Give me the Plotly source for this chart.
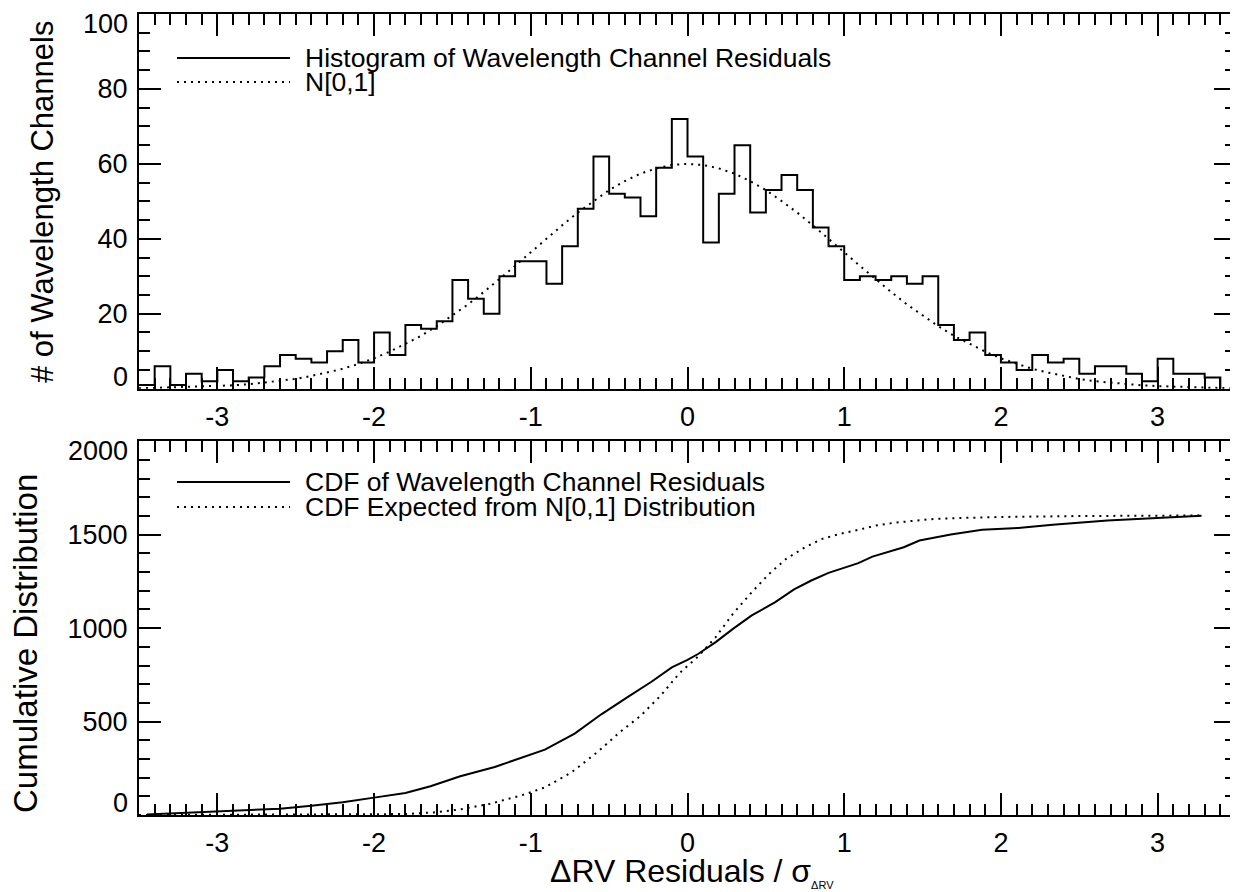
import numpy as np
import plotly.graph_objects as go
from plotly.subplots import make_subplots

# ---------------- data ----------------
bin_start = -3.5
bin_width = 0.1
hist_counts = [1, 6, 1, 4, 2, 5, 2, 3, 6, 9, 8, 7, 10, 13, 7, 15, 9, 17, 16, 18, 29, 24, 20, 30,
               34, 34, 28, 38, 48, 62, 52, 51, 46, 59, 72, 62, 39, 52, 65, 47, 53, 57, 53, 43, 38, 29, 30,
               29, 30, 28, 30, 17, 13, 15, 9, 7, 5, 9, 7, 8, 4, 6, 6, 4, 2, 8, 4, 4, 3]

gauss_x = [round(-3.5 + 0.1 * i, 1) for i in range(71)]
gauss_y = [0.1, 0.2, 0.3, 0.4, 0.5, 0.7, 0.9, 1.2, 1.6, 2.0, 2.6, 3.4, 4.3, 5.3, 6.6, 8.1, 9.9, 11.9,
           14.1, 16.7, 19.5, 22.5, 25.8, 29.2, 32.8, 36.4, 40.1, 43.6, 47.0, 50.1, 53.0, 55.4, 57.4,
           58.8, 59.7, 60.0,
           59.7, 58.8, 57.4, 55.4, 53.0, 50.1, 47.0, 43.6, 40.1, 36.4, 32.8, 29.2, 25.8, 22.5, 19.5,
           16.7, 14.1, 11.9, 9.9, 8.1, 6.6, 5.3, 4.3, 3.4, 2.6, 2.0, 1.6, 1.2, 0.9, 0.7, 0.5, 0.4,
           0.3, 0.2, 0.1]

cdf_x = [-3.45, -3.2, -3.0, -2.8, -2.6, -2.4, -2.2, -2.0, -1.8, -1.64, -1.45, -1.23, -1.02, -0.91,
         -0.72, -0.55, -0.38, -0.23, -0.1, 0.0, 0.07, 0.18, 0.29, 0.41, 0.56, 0.68, 0.79, 0.9, 1.09,
         1.18, 1.38, 1.48, 1.68, 1.88, 2.11, 2.33, 2.68, 3.02, 3.28]
cdf_y = [3, 12, 18, 23, 34, 50, 68, 93, 118, 154, 207, 257, 320, 350, 436, 539, 632, 713, 790, 830,
         863, 925, 996, 1068, 1139, 1207, 1255, 1296, 1348, 1383, 1433, 1469, 1501, 1526, 1536, 1554,
         1576, 1590, 1601]

exp_x = [-3.5, -2.0, -1.8, -1.62, -1.45, -1.26, -1.04, -0.91, -0.74, -0.57, -0.43, -0.30, -0.17,
         -0.05, 0.07, 0.18, 0.29, 0.41, 0.52, 0.63, 0.75, 0.86, 0.97, 1.09, 1.2, 1.31, 1.43, 1.54,
         1.77, 2.0, 2.5, 3.28]
exp_y = [0, 1, 5, 14, 30, 60, 110, 148, 228, 340, 445, 530, 640, 760, 850, 952, 1077, 1192, 1290,
         1371, 1433, 1478, 1504, 1526, 1549, 1563, 1572, 1583, 1590, 1595, 1600, 1603]

x_tickvals = [-3, -2, -1, 0, 1, 2, 3]
x_ticktext = ["-3", "-2", "-1", "0", "1", "2", "3"]
top_legend = ["Histogram of Wavelength Channel Residuals", "N[0,1]"]
bot_legend = ["CDF of Wavelength Channel Residuals", "CDF Expected from N[0,1] Distribution"]
top_ytitle = "# of Wavelength Channels"
bot_ytitle = "Cumulative Distribution"
xtitle = "ΔRV Residuals / σ<sub><span style='font-size:11px'>ΔRV</span></sub>"

# ---------------- figure ----------------
PAGE_OFF = 8                      # default body margin of the html page
W, H = 1238 - PAGE_OFF, 892 - PAGE_OFF
ML, MR, MT, MB = 139 - PAGE_OFF, 2, 14 - PAGE_OFF, 77
FONT = "Liberation Sans, Arial, sans-serif"
TICKF = 27
DOT = "2px,5px"
plot_w = W - ML - MR
plot_h = H - MT - MB


def pxx(px):   # page pixel -> paper x
    return (px - PAGE_OFF - ML) / plot_w


def pxy(py):   # page pixel -> paper y
    return (H - MB - (py - PAGE_OFF)) / plot_h


edges = [round(bin_start + bin_width * i, 1) for i in range(len(hist_counts) + 1)]
step_x = edges
step_y = hist_counts + [0]

fig = make_subplots(rows=2, cols=1, vertical_spacing=0.0)

fig.add_trace(go.Scatter(x=step_x, y=step_y, mode="lines", line=dict(color="black", width=2, shape="hv"),
                         showlegend=False), row=1, col=1)
fig.add_trace(go.Scatter(x=gauss_x, y=gauss_y, mode="lines", line=dict(color="black", width=2, dash=DOT),
                         showlegend=False), row=1, col=1)
fig.add_trace(go.Scatter(x=cdf_x, y=cdf_y, mode="lines", line=dict(color="black", width=2),
                         showlegend=False), row=2, col=1)
fig.add_trace(go.Scatter(x=exp_x, y=exp_y, mode="lines", line=dict(color="black", width=2, dash=DOT),
                         showlegend=False), row=2, col=1)

top_dom = [pxy(388.7), 1.0]
bot_dom = [0.0, pxy(441.3)]

axis_common = dict(showline=True, linecolor="black", linewidth=2, mirror="allticks",
                   ticks="inside", tickcolor="black", tickwidth=2, showgrid=False, zeroline=False,
                   automargin=False, tickfont=dict(family=FONT, size=TICKF, color="black"))

xcommon = dict(axis_common, range=[-3.5, 3.5], tickmode="array", tickvals=x_tickvals,
               ticktext=x_ticktext, ticklen=22,
               minor=dict(dtick=0.1, tick0=0, ticklen=11, tickwidth=2, tickcolor="black", ticks="inside"),
               ticklabelstandoff=3)
fig.update_layout(xaxis=dict(xcommon, domain=[0, 1], anchor="y"),
                  xaxis2=dict(xcommon, domain=[0, 1], anchor="y2"))

ycommon = dict(axis_common, tickmode="array", ticklen=22, ticklabelstandoff=4)
top_minor = dict(dtick=5, tick0=0, ticklen=11, tickwidth=2, tickcolor="black", ticks="inside")
bot_minor = dict(dtick=100, tick0=0, ticklen=11, tickwidth=2, tickcolor="black", ticks="inside")
fig.update_layout(
    yaxis=dict(ycommon, domain=top_dom, range=[0, 100], tickvals=[20, 40, 60, 80], minor=top_minor),
    yaxis2=dict(ycommon, domain=bot_dom, range=[0, 2000], tickvals=[500, 1000, 1500], minor=bot_minor),
    # right-hand tick marks (mirrored, no labels)
    yaxis3=dict(overlaying="y", side="right", anchor="x", range=[0, 100], tickmode="array",
                tickvals=[0, 20, 40, 60, 80, 100], ticks="inside", ticklen=22, tickwidth=2,
                tickcolor="black", showticklabels=False, showgrid=False, zeroline=False,
                showline=False, automargin=False, minor=top_minor),
    yaxis4=dict(overlaying="y2", side="right", anchor="x2", range=[0, 2000], tickmode="array",
                tickvals=[0, 500, 1000, 1500, 2000], ticks="inside", ticklen=22, tickwidth=2,
                tickcolor="black", showticklabels=False, showgrid=False, zeroline=False,
                showline=False, automargin=False, minor=bot_minor),
)

annotations = []
# end tick labels of the y axes, kept inside the axis span
for yref, val, anchor, txt, ysh in [("y", 0, "bottom", "0", -5), ("y", 100, "top", "100", 7),
                                     ("y2", 0, "bottom", "0", -5), ("y2", 2000, "top", "2000", 7)]:
    annotations.append(dict(xref="x domain", yref=yref, x=0, y=val, xanchor="right", yanchor=anchor,
                            text=txt, showarrow=False, xshift=-9, yshift=ysh,
                            font=dict(family=FONT, size=TICKF, color="black")))

# axis titles
annotations.append(dict(xref="paper", yref="paper", x=pxx(42), y=pxy(202), xanchor="center",
                        yanchor="middle", textangle=-90, text=top_ytitle, showarrow=False,
                        font=dict(family=FONT, size=31, color="black")))
annotations.append(dict(xref="paper", yref="paper", x=pxx(25), y=pxy(644), xanchor="center",
                        yanchor="middle", textangle=-90, text=bot_ytitle, showarrow=False,
                        font=dict(family=FONT, size=33, color="black")))
annotations.append(dict(xref="paper", yref="paper", x=pxx(692), y=pxy(872), xanchor="center",
                        yanchor="middle", text=xtitle, showarrow=False,
                        font=dict(family=FONT, size=32, color="black")))

shapes = []
legend_rows = [(58, top_legend[0], None), (82, top_legend[1], DOT),
               (482, bot_legend[0], None), (507, bot_legend[1], DOT)]
for py, txt, dash in legend_rows:
    yy = pxy(py)
    shapes.append(dict(type="line", xref="paper", yref="paper", x0=pxx(177), x1=pxx(290),
                       y0=yy, y1=yy, line=dict(color="black", width=2, dash=dash if dash else "solid")))
    annotations.append(dict(xref="paper", yref="paper", x=pxx(303), y=yy, xanchor="left",
                            yanchor="middle", text=txt, showarrow=False, yshift=0,
                            font=dict(family=FONT, size=26.5, color="black")))

fig.update_layout(width=W, height=H, margin=dict(l=ML, r=MR, t=MT, b=MB, autoexpand=False),
                  plot_bgcolor="white", paper_bgcolor="white", annotations=annotations, shapes=shapes,
                  showlegend=False, font=dict(family=FONT, color="black"))

fig.write_html("out.html")
